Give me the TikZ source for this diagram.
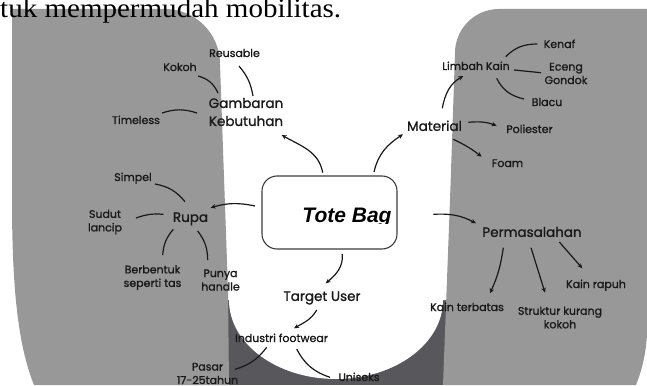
\documentclass[tikz,border=0pt]{standalone}
\usepackage{fontspec}
\setmainfont{Poppins}[FakeBold=1.2]
\newfontfamily\serifnorm{Liberation Serif}
\newfontfamily\arialf{Liberation Sans}
\usetikzlibrary{arrows.meta,calc}

\definecolor{lgray}{RGB}{152,152,152}
\definecolor{dgray}{RGB}{88,88,92}
\definecolor{ink}{RGB}{25,25,25}
\definecolor{boxline}{RGB}{60,60,60}

\begin{document}
\begin{tikzpicture}[x=1pt,y=1pt,
  lbl/.style={inner sep=0pt, font=\fontsize{11}{13.5}\selectfont, text=ink, text height=8pt, text depth=0pt},
  lblm/.style={inner sep=0pt, font=\fontsize{11}{13.5}\selectfont, text=ink, align=center},
  big/.style={inner sep=0pt, font=\fontsize{13.5}{18}\selectfont, text=ink, text height=9.8pt, text depth=0pt},
  bigm/.style={inner sep=0pt, font=\fontsize{13.5}{18}\selectfont, text=ink, align=center},
  link/.style={draw=ink, line width=1.2pt},
  arr/.style={link, -{Stealth[length=5pt,width=4.5pt]}},
]
\useasboundingbox (0,0) rectangle (647,-385);

% background shapes
\fill[dgray] (220,-285) rectangle (456,-385);
\fill[white] (220,-280) -- (220,-300) -- (229,-300) arc[start angle=180,end angle=360,x radius=107,y radius=79] -- (456,-300) -- (456,-280) -- cycle;
\fill[lgray] (12,-9) -- (165,-9) arc[start angle=90,end angle=0,radius=55] -- (228,-290) -- (229,-385) -- (34,-385) .. controls (20,-350) and (12,-300) .. (12,-200) -- cycle;
\fill[lgray] (499,-9) -- (647,-9) -- (647,-330) .. controls (647,-350) and (642,-370) .. (636,-385) -- (443,-385) -- (450,-200) -- (455,-53) arc[start angle=180,end angle=90,radius=44] -- cycle;

% top text
\node[anchor=base west, inner sep=0pt, font=\serifnorm\fontsize{27}{30}\selectfont] (toptext) at (0,-17.5) {\scalebox{1.075}[1]{tuk mempermudah mobilitas.}};

% central box
\node[draw=boxline, line width=1.1pt, rounded corners=15pt, fill=white, minimum width=135pt, minimum height=73pt, inner sep=0pt] (tote) at (329.5,-212.5) {};
\begin{scope}
\clip (262,-176) rectangle (397,-223.6);
\node[anchor=base, inner sep=0pt, font=\arialf\bfseries\itshape\fontsize{21}{25}\selectfont] (totetext) at (347,-222) {Tote Bag};
\end{scope}

% nodes
\node[bigm] (gamb) at (246,-112) {Gambaran\\Kebutuhan};
\node[lbl] (reus) at (234.5,-53) {Reusable};
\node[lbl] (kokoh) at (180,-67) {Kokoh};
\node[lbl] (timeless) at (136,-120) {Timeless};
\node[lbl] (simpel) at (133,-177) {Simpel};
\node[big] (rupa) at (190.5,-217) {Rupa};
\node[lblm] (sudut) at (105,-222) {Sudut\\lancip};
\node[lblm] (berb) at (152.5,-277.5) {Berbentuk\\seperti tas};
\node[lblm] (punya) at (220.5,-280) {Punya\\handle};
\node[big] (target) at (322,-296) {Target User};
\node[lbl] (indus) at (281.5,-338) {Industri footwear};
\node[lblm] (pasar) at (207.5,-373.5) {Pasar\\17-25tahun};
\node[lbl] (unis) at (359,-377) {Uniseks};
\node[big] (material) at (434.5,-126) {Material};
\node[lbl] (limbah) at (476,-66) {Limbah Kain};
\node[lbl] (kenaf) at (559.5,-44) {Kenaf};
\node[lblm] (eceng) at (566,-73.5) {Eceng\\Gondok};
\node[lbl] (blacu) at (547,-102) {Blacu};
\node[lbl] (poli) at (529.5,-129) {Poliester};
\node[lbl] (foam) at (507.5,-163) {Foam};
\node[big] (perm) at (532,-232) {Permasalahan};
\node[lbl] (terb) at (467,-307) {Kain terbatas};
\node[lblm] (struk) at (560,-317.5) {Struktur kurang\\kokoh};
\node[lbl] (rapuh) at (596,-284) {Kain rapuh};

% Gambaran Kebutuhan cluster
\draw[link] ($(reus.center)+(4.5,-13)$) to[bend left=15] ($(gamb.center)+(7,16)$);
\draw[link] ($(kokoh.center)+(18,-9)$) to[bend left=25] ($(gamb.center)+(-28,19)$);
\draw[link] ($(timeless.center)+(26,7)$) to[bend left=18] ($(gamb.center)+(-49,-1)$);
\draw[arr] ($(tote.center)+(-6.8,39.8)$) to[out=100,in=-30] ($(gamb.center)+(35.7,-23)$);

% Material cluster
\draw[arr] ($(tote.center)+(44.5,40.5)$) to[out=77,in=213] ($(material.center)+(-31.5,-8.3)$);
\draw[arr] ($(material.center)+(7.8,17.7)$) to[out=80,in=210] ($(limbah.center)+(-12.7,-10)$);
\draw[link] ($(limbah.center)+(29.7,9.3)$) to[out=45,in=180] ($(kenaf.center)+(-22.2,0)$);
\draw[link] ($(limbah.center)+(38,-4)$) -- ($(eceng.center)+(-25,0.8)$);
\draw[link] ($(limbah.center)+(20.7,-12.3)$) to[out=-64,in=167] ($(blacu.center)+(-23,3)$);
\draw[arr] ($(material.center)+(33.8,3.7)$) to[out=5,in=160] ($(poli.center)+(-32.8,3.3)$);
\draw[arr] ($(material.center)+(18.8,-13.3)$) to[bend left=6] ($(foam.center)+(-25.8,6.3)$);

% Rupa cluster
\draw[arr] ($(tote.center)+(-74.5,6.5)$) to[bend right=14] ($(rupa.center)+(20.2,9.3)$);
\draw[link] ($(simpel.center)+(22,-7)$) to[bend left=20] ($(rupa.center)+(-5.5,15.3)$);
\draw[link] ($(sudut.center)+(31,4)$) to[bend left=12] ($(rupa.center)+(-27.2,2.7)$);
\draw[link] ($(rupa.center)+(-17.2,-12.3)$) to[bend right=18] ($(berb.center)+(10.2,22.5)$);
\draw[link] ($(rupa.center)+(7.2,-14)$) to[bend left=18] ($(punya.center)+(-12.8,20)$);

% Permasalahan cluster
\draw[arr] ($(tote.center)+(103.8,-1.8)$) to[out=3,in=152] ($(perm.center)+(-56,8.7)$);
\draw[arr] ($(perm.center)+(-28.7,-15.7)$) to[bend left=8] ($(terb.center)+(23,13.7)$);
\draw[arr] ($(perm.center)+(-1,-15.7)$) -- ($(struk.center)+(-15,24.8)$);
\draw[arr] ($(perm.center)+(27.3,-10)$) -- ($(rapuh.center)+(-13.7,15.7)$);

% Target User cluster
\draw[arr] ($(tote.center)+(12.8,-41.5)$) to[out=-85,in=40] ($(target.center)+(3.7,12.7)$);
\draw[arr] ($(target.center)+(-5.3,-14)$) to[out=-120,in=30] ($(indus.center)+(12.5,9.7)$);
\draw[link] ($(indus.center)+(-14.8,-9.3)$) to[bend left=18] ($(pasar.center)+(27.5,4.2)$);
\draw[link] ($(indus.center)+(15.2,-11)$) to[bend right=22] ($(unis.center)+(-29,-0.3)$);
\end{tikzpicture}
\end{document}
